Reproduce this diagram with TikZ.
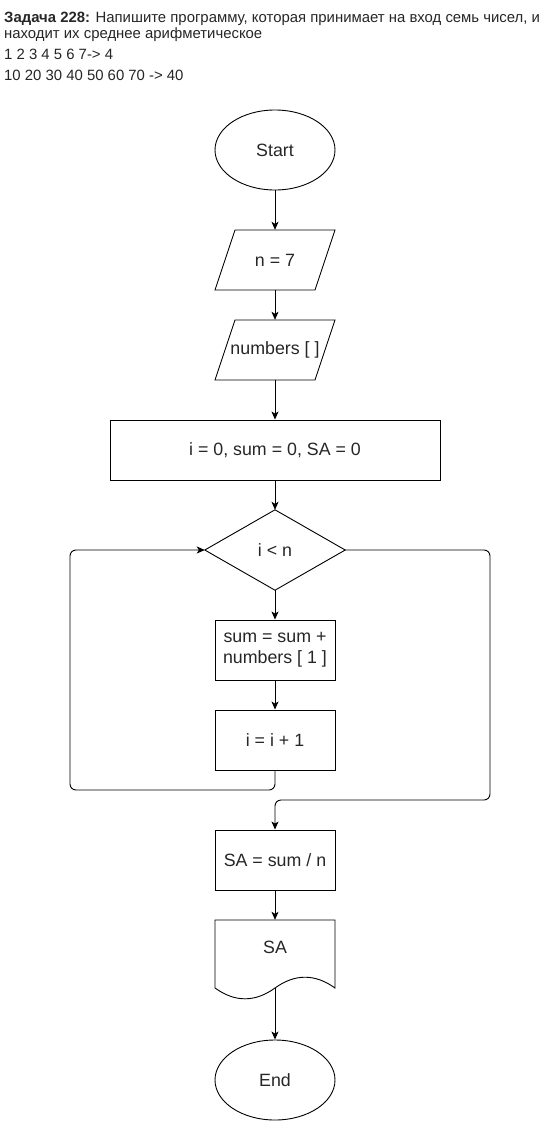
\documentclass[tikz,border=0pt]{standalone}
\usepackage{fontspec}
\setmainfont{Liberation Sans}
\usetikzlibrary{shapes.geometric,arrows.meta}
\begin{document}
\begin{tikzpicture}[x=1pt,y=-1pt,
  line/.style={draw=black,line width=0.9pt},
  flow/.style={line,-{Stealth[length=8pt,width=7pt,inset=2pt]}},
  loop/.style={flow,rounded corners=6pt},
  nodefont/.style={font=\fontsize{17.8}{21}\selectfont,text=black!85},
  box/.style={draw=black,line width=0.9pt,minimum width=120pt,minimum height=60pt,inner sep=0pt,align=center,nodefont},
  ghost/.style={minimum width=120pt,minimum height=60pt,inner sep=0pt,align=center,nodefont},
  term/.style={ellipse,draw=black,line width=0.9pt,minimum width=120pt,minimum height=80pt,inner sep=0pt,nodefont},
  head/.style={anchor=base west,inner sep=0pt,font=\fontsize{14.9}{17}\selectfont,text=black!85}]
\useasboundingbox (0,0) rectangle (551,1121);
% header
\node[head] (h1) at (4,23) {\textbf{Задача 228:} Напишите программу, которая принимает на вход семь чисел, и};
\node[head] (h2) at (4,39) {находит их среднее арифметическое};
\node[head] (h3) at (4,60) {1 2 3 4 5 6 7-> 4};
\node[head] (h4) at (4,81) {10 20 30 40 50 60 70 -> 40};
% nodes
\node[term] (start) at (275,150) {Start};
\node[ghost] (n7) at (275,260) {n = 7};
\draw[line] (235,230) -- (335,230) -- (315,290) -- (215,290) -- cycle;
\node[ghost] (num) at (275,350) {numbers [ ]};
\draw[line] (235,320) -- (335,320) -- (315,380) -- (215,380) -- cycle;
\node[box,minimum width=330pt] (init) at (275,450) {i = 0, sum = 0, SA = 0};
\node[ghost,minimum width=140pt,minimum height=80pt] (dec) at (275,550) {i < n};
\draw[line] (dec.north) -- (dec.east) -- (dec.south) -- (dec.west) -- cycle;
\node[box] (sum) at (275,650) {sum = sum +\\numbers [ 1 ]};
\node[box] (inc) at (275,740) {i = i + 1};
\node[box] (sa) at (275,860) {SA = sum / n};
\node[ghost,minimum height=80pt] (doc) at (275,960) {};
\node[ghost] (doctext) at (275,947) {SA};
\draw[line] (215,920) -- (335,920) -- (335,988)
  .. controls (315,973.6) and (295,973.6) .. (275,988)
  .. controls (255,1002.4) and (235,1002.4) .. (215,988) -- cycle;
\coordinate (docb) at (275,988);
\node[term] (end) at (275,1080) {End};
% connectors
\draw[flow] (start.south) -- (n7.north);
\draw[flow] (n7.south) -- (num.north);
\draw[flow] (num.south) -- (init.north);
\draw[flow] (init.south) -- (dec.north);
\draw[flow] (dec.south) -- (sum.north);
\draw[flow] (sum.south) -- (inc.north);
\coordinate (l1) at (275,790);
\coordinate (l2) at (70,790);
\coordinate (l3) at (70,550);
\draw[loop] (inc.south) -- (l1) -- (l2) -- (l3) -- (dec.west);
\coordinate (r1) at (490,550);
\coordinate (r2) at (490,800);
\coordinate (r3) at (275,800);
\draw[loop] (dec.east) -- (r1) -- (r2) -- (r3) -- (sa.north);
\draw[flow] (sa.south) -- (doc.north);
\draw[flow] (docb) -- (end.north);
\end{tikzpicture}
\end{document}
